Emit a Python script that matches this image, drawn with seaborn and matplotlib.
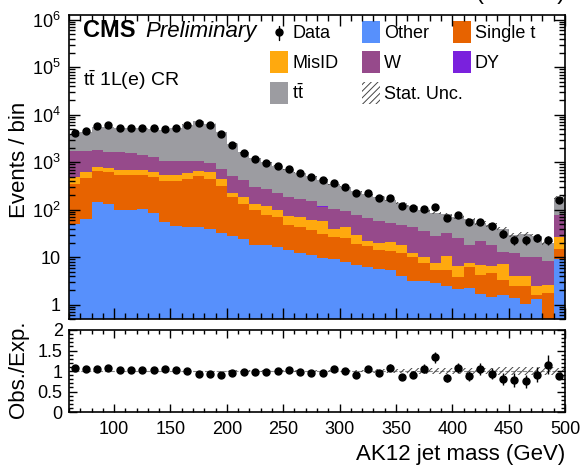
import numpy as np
import pandas as pd
import seaborn as sns
from matplotlib import pyplot as plt
from matplotlib.patches import Rectangle
from matplotlib.lines import Line2D
from matplotlib.ticker import MultipleLocator, LogLocator, FuncFormatter, NullFormatter

sns.set_style('ticks')
plt.rcParams['font.family'] = ['Liberation Sans', 'DejaVu Sans']
plt.rcParams['mathtext.fontset'] = 'custom'
plt.rcParams['mathtext.rm'] = 'Liberation Sans'
plt.rcParams['mathtext.it'] = 'Liberation Sans:italic'
plt.rcParams['mathtext.bf'] = 'Liberation Sans:bold'
plt.rcParams['hatch.linewidth'] = 0.7
plt.rcParams['axes.axisbelow'] = False  # ticks on top of the filled stack, like ROOT
for k in ['text.color', 'axes.labelcolor', 'axes.edgecolor', 'xtick.color', 'ytick.color']:
    plt.rcParams[k] = 'black'

# AK12 jet mass binning (GeV): 10 GeV bins, the last one holds the overflow
edges = np.arange(60, 501, 10)
centers = edges[:-1] + 5

# expected yields per bin
other = [50.7, 63, 142, 132, 97, 97, 103, 85, 55, 46, 42.5, 43, 40, 32, 27.4, 24, 18.3, 18, 16.1, 13.9, 12.2, 10.9,
         9.6, 9.15, 7.8, 6.7, 6.2, 5.6, 5.3, 3.95, 3.2, 3.2, 2.9, 2.5, 2.1, 2.2, 1.7, 1.45, 1.57, 1.38, 1.03, 1.32, 0, 9.16]
single_t = [301, 402, 510, 479, 449, 440, 434, 410, 353, 348, 400, 459, 403, 278, 158, 110, 79, 60.5, 52.8, 34.4, 31, 27,
            21.6, 17, 17.1, 12.5, 10.7, 8.3, 8.4, 8.25, 6.7, 4.3, 2.6, 2.95, 1.8, 3.9, 2.6, 3.2, 1.7, 1.13, 1.48, 0.3, 1.76, 5.7]
misid = [128, 146, 139, 130, 127, 136, 136, 136, 120, 143, 150, 160, 168, 133, 43, 51, 37, 42.5, 31, 24, 25.7, 21.7,
         25.5, 13.6, 18.3, 9.6, 5.4, 6.0, 7.2, 6.1, 2.3, 2.6, 2.0, 5.3, 2.7, 1.4, 2.7, 2.0, 4.0, 1.57, 1.57, 0.89, 0.88, 11.7]
w_jets = [1210, 1079, 1042, 922, 937, 887, 765, 654, 548, 503, 448, 414, 351, 275, 274, 229, 161, 156, 124, 113, 102, 95,
          60, 63, 49, 48, 44.7, 38.8, 31.5, 28.5, 31, 26, 20.9, 21.5, 18.8, 10.8, 15.3, 11.7, 5.3, 8.1, 6.0, 7.6, 5.76, 51.9]
dy = [8, 9, 9, 8, 7, 7, 6, 5, 4, 4, 4, 3, 3, 2.5, 2, 1.5, 1.2, 1, 1, 0.8, 0.7, 0.6,
      0.5, 0.4, 0.4, 0.3, 0.3, 0.3, 0.2, 0.2, 0.2, 0.2, 0.2, 0.15, 0.15, 0.15, 0.1, 0.1, 0.6, 0.1, 0.1, 0.1, 0.1, 0.5]
ttbar = [2068, 2629, 3734, 3905, 3670, 3720, 3801, 3797, 3810, 4199, 5130, 6198, 5538, 3677, 1957, 1199, 912, 718, 620, 521, 436, 350,
         315, 241, 213, 167, 145, 123, 107, 91, 74, 61, 57, 48, 45, 44.6, 30, 29.5, 25.6, 17.3, 20.7, 18.4, 11.4, 100.7]
data_obs = [4070, 4570, 5890, 6030, 5370, 5370, 5370, 5250, 5130, 5370, 6170, 6670, 5960, 3920, 2336, 1560, 1167, 962, 844, 718, 592, 480,
            414, 364, 305, 220, 224, 173, 173, 117, 107, 103, 114, 67, 76, 55, 55, 45, 31, 23, 23, 26, 23, 157]
# relative MC stat. uncertainty per bin
stat_unc = [0.01, 0.01, 0.01, 0.01, 0.01, 0.01, 0.01, 0.01, 0.01, 0.01, 0.01, 0.01, 0.01, 0.01, 0.015, 0.015, 0.015, 0.015, 0.02, 0.02, 0.02, 0.025,
            0.025, 0.025, 0.025, 0.03, 0.03, 0.05, 0.05, 0.05, 0.07, 0.07, 0.07, 0.07, 0.08, 0.08, 0.08, 0.08, 0.1, 0.1, 0.1, 0.1, 0.1, 0.07]

procs = ['ttbar', 'DY', 'W', 'MisID', 'Single t', 'Other']  # seaborn puts the first hue level on top of the stack
colors = {'Other': '#5790fc', 'Single t': '#e76300', 'MisID': '#ffa90e',
          'W': '#964a8b', 'DY': '#7a21dd', 'ttbar': '#9c9ca1'}
yields = {'ttbar': ttbar, 'DY': dy, 'W': w_jets, 'MisID': misid, 'Single t': single_t, 'Other': other}

df = pd.concat([pd.DataFrame({'mass': centers, 'proc': p, 'w': yields[p]}) for p in procs], ignore_index=True)

total = np.sum([np.array(yields[p], dtype=float) for p in procs], axis=0)
data = np.array(data_obs, dtype=float)
unc = np.array(stat_unc)
ratio = data / total
ratio_err = np.sqrt(data) / total

fig = plt.figure(figsize=(5.83, 4.65), dpi=100)
ax = fig.add_axes([69 / 583, 1 - 319 / 465, 496 / 583, 304 / 465])
axr = fig.add_axes([69 / 583, 1 - 412 / 465, 496 / 583, 82 / 465])

#####################
# upper panel: stacked backgrounds + data
sns.histplot(data=df, x='mass', weights='w', hue='proc', hue_order=procs, bins=[float(e) for e in edges],
             multiple='stack', element='step', palette=colors, alpha=1, linewidth=0,
             legend=False, ax=ax)

lo = total * (1 - unc)
hi = total * (1 + unc)
ax.fill_between(edges, np.append(lo, lo[-1]), np.append(hi, hi[-1]), step='post',
                facecolor='none', edgecolor='#444444', hatch='/////', linewidth=0, zorder=3)
ax.errorbar(centers, data, yerr=np.sqrt(data), fmt='o', color='black', ms=5,
            elinewidth=1, capsize=0, zorder=5)

ax.set_yscale('log')
ax.set_ylim(0.5, 1.26e6)
ax.yaxis.set_major_locator(LogLocator(base=10, numticks=12))
ax.yaxis.set_minor_locator(LogLocator(base=10, subs=np.arange(2, 10), numticks=40))
ax.yaxis.set_minor_formatter(NullFormatter())


def log_label(v, pos):
    n = int(round(np.log10(v)))
    if n == 0:
        return '1'
    if n == 1:
        return '10'
    return r'$10^{%d}$' % n


ax.yaxis.set_major_formatter(FuncFormatter(log_label))
ax.set_xlabel('')
ax.set_ylabel('Events / bin', fontsize=16)
ax.yaxis.set_label_coords(-0.0796, 0.523)

#####################
# lower panel: ratio
axr.fill_between(edges, np.append(1 - unc, 1 - unc[-1]), np.append(1 + unc, 1 + unc[-1]), step='post',
                 facecolor='none', edgecolor='#444444', hatch='/////', linewidth=0, zorder=2)
axr.axhline(1, color='#888888', ls='--', lw=0.8, zorder=1)
axr.errorbar(centers, ratio, yerr=ratio_err, fmt='o', color='black', ms=5,
             elinewidth=1, capsize=0, zorder=5)
axr.set_ylim(0, 2)
axr.yaxis.set_major_locator(MultipleLocator(0.5))
axr.yaxis.set_minor_locator(MultipleLocator(0.1))
axr.yaxis.set_major_formatter(FuncFormatter(lambda v, pos: '%g' % v))
axr.set_ylabel('Obs./Exp.', fontsize=16)
axr.yaxis.set_label_coords(-0.08, 0.518)
axr.set_xlabel('AK12 jet mass (GeV)', fontsize=16, loc='right')
axr.xaxis.set_label_coords(1.0, -0.39)

for a in (ax, axr):
    a.set_axisbelow(False)
    a.set_xlim(60, 500)
    a.xaxis.set_major_locator(MultipleLocator(50))
    a.xaxis.set_minor_locator(MultipleLocator(10))
    a.tick_params(which='both', direction='in', top=True, right=True, labelsize=13, width=1, color='black')
    for s in a.spines.values():
        s.set_linewidth(1.2)
        s.set_color('black')
ax.tick_params(which='major', length=8)
ax.tick_params(which='minor', length=4.5)
ax.tick_params(axis='y', pad=6)
ax.tick_params(labelbottom=False)
axr.tick_params(which='major', length=6)
axr.tick_params(which='minor', length=3)
axr.tick_params(axis='y', pad=4.5)
axr.tick_params(axis='x', pad=6.5)

#####################
# labels
ax.text(0.0282, 0.9276, 'CMS', fontweight='bold', fontsize=17, transform=ax.transAxes, va='baseline')
ax.text(0.1532, 0.9276, 'Preliminary', style='italic', fontsize=16, transform=ax.transAxes, va='baseline')
ax.text(0.0282, 0.7664, r'$\mathrm{t\bar{t}}$ 1L(e) CR', fontsize=14, transform=ax.transAxes, va='baseline')
fig.text(565 / 583, 1 + 1.5 / 465, '(13 TeV)', ha='right', va='baseline', fontsize=17)


# legend drawn by hand (ROOT-like fixed columns)
def fx(px):
    return (px - 69) / 496


def fy(py):
    return (319 - py) / 304


col_x = [270, 362, 453]
row_top = [21, 51, 82]
entries = [('data', 'Data', 0, 0), ('Other', 'Other', 1, 0), ('Single t', 'Single t', 2, 0),
           ('MisID', 'MisID', 0, 1), ('W', 'W', 1, 1), ('DY', 'DY', 2, 1),
           ('ttbar', r'$\mathrm{t\bar{t}}$', 0, 2), ('unc', 'Stat. Unc.', 1, 2)]
for key, label, c, r in entries:
    x0 = col_x[c]
    top = row_top[r]
    if key == 'data':
        ax.add_line(Line2D([fx(x0 + 9)] * 2, [fy(top + 5), fy(top + 19)], color='black', lw=1,
                           transform=ax.transAxes, clip_on=False))
        ax.plot([fx(x0 + 9)], [fy(top + 11)], 'o', color='black', ms=5, transform=ax.transAxes, clip_on=False)
    elif key == 'unc':
        ax.add_patch(Rectangle((fx(x0), fy(top + 22)), 18 / 496, 22 / 304, facecolor='white',
                               edgecolor='#444444', hatch='/////', linewidth=0, transform=ax.transAxes))
    else:
        ax.add_patch(Rectangle((fx(x0), fy(top + 22)), 18 / 496, 22 / 304, facecolor=colors[key],
                               linewidth=0, transform=ax.transAxes))
    ax.text(fx(x0 + 22), fy(top + 17.3), label, fontsize=13, transform=ax.transAxes, va='baseline')

fig.savefig('out.png', dpi=100)
